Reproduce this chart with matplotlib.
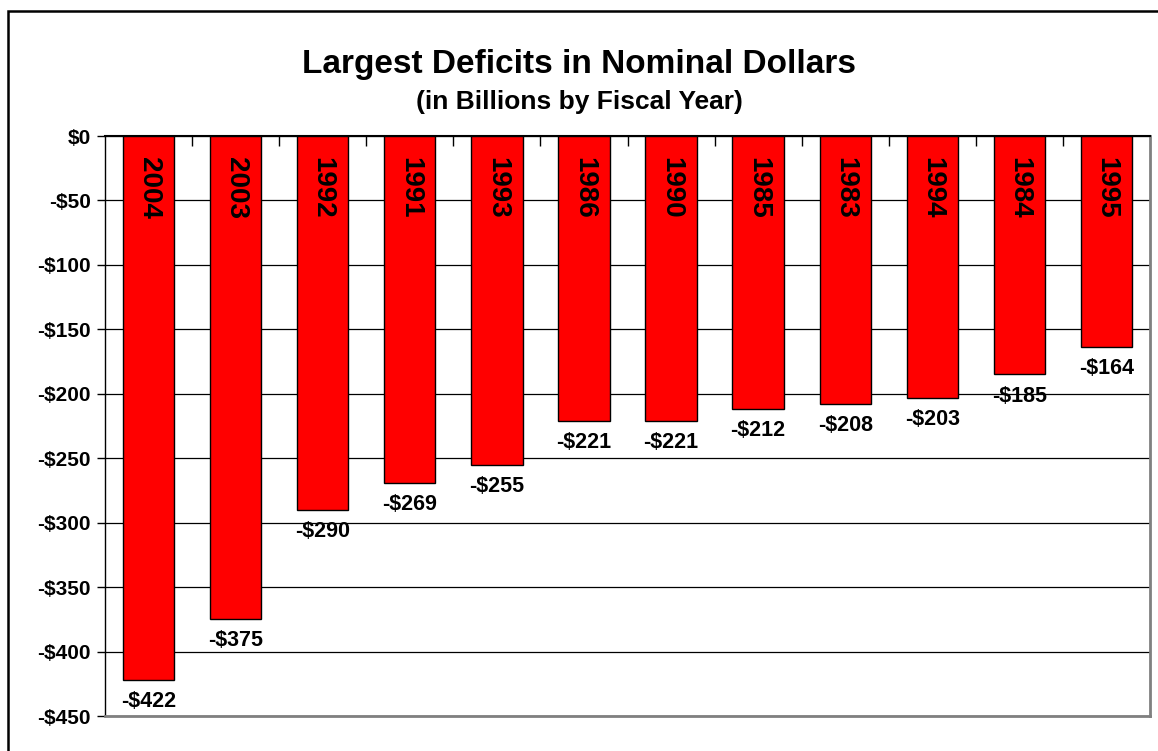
import numpy as np
import matplotlib.pyplot as plt
from matplotlib.patches import Rectangle

plt.rcParams['font.family'] = ['Liberation Sans', 'DejaVu Sans']
plt.rcParams['font.weight'] = 'bold'

# deficits, largest first (billions of dollars)
years = ['2004', '2003', '1992', '1991', '1993', '1986',
         '1990', '1985', '1983', '1994', '1984', '1995']
deficits = [-422, -375, -290, -269, -255, -221,
            -221, -212, -208, -203, -185, -164]
y_ticks = [0, -50, -100, -150, -200, -250, -300, -350, -400, -450]

fig = plt.figure(figsize=(11.58, 7.51), dpi=100)
ax = fig.add_axes([105/1158, 1 - 716/751, 1045/1158, 580/751])

x = np.arange(len(years))
ax.bar(x, deficits, width=0.59, color='#ff0000', edgecolor='black',
       linewidth=1.0, zorder=3)

# year inside each bar, value under it
for xi, yr, val in zip(x, years, deficits):
    ax.text(xi, -16, yr, rotation=270, ha='center', va='top',
            fontsize=20, fontweight='bold', zorder=4)
    ax.annotate('-$%d' % abs(val), (xi, val), xytext=(0, -8),
                textcoords='offset points', ha='center', va='top',
                fontsize=15.5, fontweight='bold', zorder=4)

ax.set_xlim(-0.5, len(years) - 0.5)
ax.set_ylim(-450, 0)
ax.set_yticks(y_ticks)
ax.set_yticklabels(['$0' if v == 0 else '-$%d' % abs(v) for v in y_ticks],
                   fontsize=15, fontweight='bold')
ax.yaxis.grid(True, color='black', linewidth=0.9, zorder=0)
ax.tick_params(axis='y', direction='out', length=6, width=1, pad=4)

# category axis sits along $0 with ticks between bars
ax.xaxis.tick_top()
ax.set_xticks(np.arange(0.5, len(years) - 0.5))
ax.set_xticklabels([])
ax.tick_params(axis='x', direction='in', length=7, width=1)

ax.spines['top'].set_linewidth(1.5)
ax.spines['left'].set_linewidth(1.0)
for s in ['right', 'bottom']:
    ax.spines[s].set_color('#808080')
    ax.spines[s].set_linewidth(2)

fig.text(0.5, 1 - 65/751, 'Largest Deficits in Nominal Dollars',
         ha='center', va='center', fontsize=24, fontweight='bold')
fig.text(0.5, 1 - 102/751, '(in Billions by Fiscal Year)',
         ha='center', va='center', fontsize=19, fontweight='bold')

# chart frame
fig.add_artist(Rectangle((8/1158, -0.2), 1.5, 1.2 - 11/751,
                         transform=fig.transFigure, fill=False,
                         edgecolor='black', linewidth=1.8))

fig.savefig('out.png', dpi=100, facecolor='white')
